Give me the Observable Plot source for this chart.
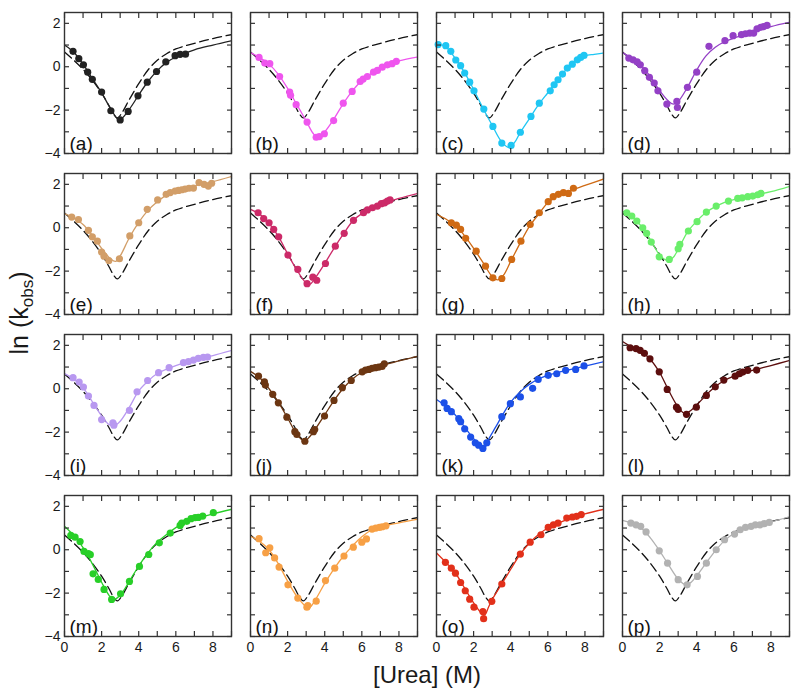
<!DOCTYPE html>
<html><head><meta charset="utf-8">
<script src="https://cdn.jsdelivr.net/npm/d3@7"></script>
<script src="https://cdn.jsdelivr.net/npm/@observablehq/plot@0.6"></script>
<style>body{margin:0;background:#fff;} #chart{width:800px;height:694px;}</style>
</head><body><div id="chart"></div>
<script>
const xTicks = [0,1,2,3,4,5,6,7,8,9];
const xTickLabels = [0,2,4,6,8];
const yTicks = [-4,-3,-2,-1,0,1,2];
const yTickLabels = [-4,-2,0,2];
const panelIds = ["a","b","c","d","e","f","g","h","i","j","k","l","m","n","o","p"];
const panelColors = ["#222222","#ef55ee","#1fc6f3","#9440c6","#d29e68","#cc2a68","#cf6a14","#6aee6a",
                     "#b898f0","#6c3612","#1c50e8","#5c0e0e","#28cf28","#f7a045","#e2301a","#b2b2b2"];
const xTitle = "[Urea] (M)";

// reference (dashed) chevron, same in every panel
const refCurve = [[0,0.68],[0.5,0.3],[1,-0.12],[1.5,-0.62],[2,-1.22],[2.4,-1.8],[2.6,-2.12],[2.85,-2.36],[3.1,-2.12],[3.5,-1.5],[4,-0.78],[4.5,-0.15],[5,0.3],[5.5,0.6],[6,0.82],[7,1.08],[8,1.3],[9,1.48]];

const a_pts = [[0.46,0.71],[0.77,0.37],[1.02,0.09],[1.25,-0.25],[1.5,-0.58],[2.0,-1.17],[2.5,-2.03],[3.0,-2.45],[3.43,-2.06],[3.96,-1.34],[4.46,-0.71],[4.96,-0.22],[5.46,0.22],[5.96,0.51],[6.23,0.57],[6.52,0.58]];
const a_fit = [[0,1.0],[0.5,0.67],[1,0.12],[1.5,-0.55],[2,-1.2],[2.5,-1.95],[2.95,-2.45],[3.5,-1.95],[4,-1.3],[4.5,-0.68],[5,-0.18],[5.5,0.2],[6,0.45],[7,0.78],[8,1.0],[9,1.2]];

const b_pts = [[0.46,0.43],[0.77,0.17],[1.04,0.14],[1.57,-0.45],[2.11,-1.17],[2.16,-1.32],[2.46,-1.75],[3.05,-2.55],[3.54,-3.25],[3.71,-3.22],[3.98,-3.09],[4.48,-2.48],[5.0,-1.68],[5.48,-1.14],[5.91,-0.68],[6.07,-0.57],[6.3,-0.45],[6.63,-0.25],[6.84,-0.17],[7.1,-0.02],[7.38,0.09],[7.63,0.14],[7.86,0.25]];
const b_fit = [[0,0.65],[0.5,0.42],[1,0.12],[1.5,-0.35],[2,-1.0],[2.5,-1.75],[3,-2.5],[3.4,-3.1],[3.65,-3.25],[4,-3.0],[4.5,-2.4],[5,-1.7],[5.5,-1.1],[6,-0.65],[7,-0.05],[8,0.27],[9,0.45]];

const c_pts = [[0.09,1.02],[0.5,0.97],[0.77,0.71],[1.04,0.31],[1.3,0.05],[1.52,-0.29],[1.79,-0.71],[2.02,-1.11],[2.55,-1.95],[3.04,-2.75],[3.52,-3.52],[4.02,-3.63],[4.52,-3.02],[5.09,-2.29],[5.54,-1.68],[6.13,-1.11],[6.34,-0.83],[6.55,-0.6],[6.79,-0.34],[7.05,-0.06],[7.32,0.12],[7.59,0.32],[7.77,0.43],[7.95,0.52]];
const c_fit = [[0,1.05],[0.5,0.92],[1,0.4],[1.5,-0.25],[2,-1.05],[2.5,-1.9],[3,-2.7],[3.5,-3.45],[3.9,-3.72],[4.2,-3.5],[4.5,-3.05],[5,-2.4],[5.5,-1.75],[6,-1.2],[6.5,-0.65],[7,-0.12],[7.5,0.25],[8,0.5],[8.5,0.57],[9,0.63]];

const d_pts = [[0.34,0.4],[0.57,0.32],[0.79,0.22],[0.96,0.09],[1.2,-0.18],[1.45,-0.49],[1.71,-0.75],[1.91,-1.11],[2.39,-1.72],[2.93,-1.6],[2.96,-1.88],[3.5,-0.95],[4.0,-0.25],[4.66,0.94],[5.52,1.2],[5.96,1.43],[6.41,1.48],[6.63,1.52],[6.86,1.55],[7.07,1.55],[7.25,1.75],[7.45,1.82],[7.6,1.85],[7.79,1.91]];
const d_fit = [[0,0.65],[0.5,0.38],[1,0.05],[1.5,-0.45],[2,-1.1],[2.5,-1.6],[2.75,-1.72],[3,-1.6],[3.5,-0.95],[4,-0.15],[4.5,0.5],[5,0.9],[5.5,1.15],[6,1.32],[7,1.58],[8,1.85],[9,2.05]];

const e_pts = [[0.39,0.49],[0.75,0.38],[1.29,-0.12],[1.5,-0.42],[1.77,-0.62],[2.0,-1.12],[2.13,-1.31],[2.39,-1.51],[2.96,-1.43],[3.52,-0.38],[4.0,0.23],[4.46,0.85],[5.02,1.28],[5.48,1.54],[5.7,1.62],[5.96,1.69],[6.14,1.72],[6.32,1.75],[6.5,1.78],[6.71,1.82],[6.95,1.83],[7.25,2.08],[7.52,2.0],[7.75,1.92],[7.93,2.05]];
const e_fit = [[0,0.65],[0.5,0.45],[1,0.15],[1.5,-0.35],[2,-0.95],[2.5,-1.45],[2.75,-1.55],[3,-1.3],[3.5,-0.45],[4,0.25],[4.5,0.8],[5,1.2],[5.5,1.5],[6,1.68],[7,1.92],[8,2.12],[9,2.36]];

const f_pts = [[0.41,0.69],[0.71,0.42],[1.0,0.23],[1.25,-0.08],[1.52,-0.42],[2.02,-1.26],[2.55,-1.92],[3.05,-2.58],[3.36,-2.28],[3.57,-2.42],[4.04,-1.65],[4.57,-0.85],[5.05,-0.26],[5.55,0.34],[6.09,0.69],[6.3,0.82],[6.57,0.92],[6.84,1.0],[7.05,1.11],[7.23,1.15],[7.38,1.23],[7.52,1.28]];
const f_fit = [[0,0.85],[0.5,0.62],[1,0.2],[1.5,-0.4],[2,-1.2],[2.5,-1.95],[3,-2.55],[3.2,-2.6],[3.5,-2.3],[4,-1.65],[4.5,-0.95],[5,-0.3],[5.5,0.3],[6,0.65],[7,1.08],[8,1.35],[9,1.58]];

const g_pts = [[0.8,0.23],[1.07,0.12],[1.3,-0.08],[1.57,-0.49],[2.14,-1.08],[2.64,-1.77],[3.04,-2.31],[3.52,-2.34],[4.05,-1.46],[4.55,-0.62],[5.05,0.15],[5.54,0.69],[6.02,1.2],[6.29,1.43],[6.57,1.54],[6.84,1.62],[7.11,1.58],[7.38,1.82]];
const g_fit = [[0,0.62],[0.5,0.4],[1,0.12],[1.5,-0.35],[2,-0.95],[2.5,-1.6],[3,-2.25],[3.3,-2.4],[3.6,-2.2],[4,-1.55],[4.5,-0.72],[5,0.05],[5.5,0.62],[6,1.15],[6.5,1.45],[7,1.65],[8,1.95],[9,2.24]];

const h_pts = [[0.23,0.69],[0.5,0.54],[0.77,0.31],[1.09,0.0],[1.3,-0.26],[1.55,-0.66],[1.98,-1.34],[2.52,-1.46],[3.0,-0.97],[3.09,-0.77],[3.55,-0.15],[4.02,0.28],[4.52,0.72],[5.05,1.0],[5.71,1.23],[6.21,1.35],[6.45,1.38],[6.75,1.43],[7.02,1.46],[7.29,1.52],[7.46,1.58]];
const h_fit = [[0,0.75],[0.5,0.52],[1,0.08],[1.5,-0.55],[2,-1.25],[2.4,-1.5],[2.7,-1.4],[3,-1.0],[3.5,-0.2],[4,0.3],[4.5,0.7],[5,0.97],[5.5,1.17],[6,1.3],[7,1.48],[8,1.66],[9,1.9]];

const i_pts = [[0.46,0.51],[0.79,0.31],[1.02,0.08],[1.29,-0.34],[1.59,-0.77],[2.0,-1.42],[2.61,-1.57],[2.66,-1.68],[3.5,-1.0],[3.91,-0.14],[4.48,0.38],[5.07,0.74],[5.64,0.97],[6.41,1.2],[6.68,1.25],[6.95,1.32],[7.21,1.4],[7.48,1.45],[7.71,1.46]];
const i_fit = [[0,0.7],[0.5,0.45],[1,0.05],[1.5,-0.6],[2,-1.25],[2.4,-1.65],[2.65,-1.72],[3,-1.5],[3.5,-0.85],[4,-0.1],[4.5,0.35],[5,0.7],[6,1.07],[7,1.32],[8,1.53],[9,1.76]];

const j_pts = [[0.43,0.58],[0.75,0.32],[0.8,0.17],[1.2,-0.26],[1.5,-0.65],[1.96,-1.31],[2.39,-1.98],[2.5,-2.11],[2.93,-2.42],[3.39,-1.98],[3.46,-1.88],[3.99,-1.26],[4.5,-0.54],[4.95,0.05],[5.43,0.38],[6.02,0.78],[6.2,0.86],[6.38,0.89],[6.55,0.94],[6.73,0.97],[6.91,1.0],[7.09,1.03],[7.21,1.15]];
const j_fit = [[0,0.8],[0.5,0.5],[1,0.0],[1.5,-0.62],[2,-1.35],[2.5,-2.1],[2.9,-2.42],[3.2,-2.2],[3.5,-1.85],[4,-1.2],[4.5,-0.55],[5,0.02],[5.5,0.45],[6,0.75],[7,1.05],[8,1.28],[9,1.5]];

const k_pts = [[0.41,-0.65],[0.57,-0.91],[0.8,-1.06],[1.2,-1.38],[1.3,-1.52],[1.52,-1.85],[1.84,-2.23],[2.09,-2.49],[2.27,-2.6],[2.5,-2.75],[2.71,-2.49],[3.52,-1.29],[3.98,-0.69],[4.52,-0.38],[5.18,0.02],[5.48,0.43],[6.02,0.62],[6.48,0.69],[6.96,0.85],[7.5,0.89],[7.95,1.05]];
const k_fit = [[0,-0.5],[0.5,-0.8],[1,-1.2],[1.5,-1.75],[2,-2.3],[2.4,-2.65],[2.6,-2.72],[2.8,-2.35],[3.2,-1.75],[3.6,-1.15],[4,-0.62],[4.5,-0.15],[5,0.2],[5.5,0.45],[6,0.62],[7,0.85],[8,1.04],[9,1.24]];

const l_pts = [[0.41,1.89],[0.73,1.85],[0.95,1.77],[1.18,1.63],[1.48,1.38],[1.98,0.78],[2.41,-0.03],[2.91,-0.85],[3.0,-0.95],[3.45,-1.18],[3.98,-0.85],[4.52,-0.31],[5.0,0.09],[5.46,0.4],[6.07,0.58],[6.3,0.69],[6.48,0.77],[6.75,0.85],[7.23,0.86]];
const l_fit = [[0,2.18],[0.5,1.92],[1,1.72],[1.5,1.35],[2,0.75],[2.5,-0.1],[3,-0.85],[3.35,-1.15],[3.6,-1.05],[4,-0.75],[4.5,-0.3],[5,0.1],[5.5,0.38],[6,0.58],[7,0.85],[8,1.07],[9,1.3]];

const m_pts = [[0.34,0.66],[0.57,0.58],[0.84,0.38],[1.05,-0.08],[1.29,-0.18],[1.39,-0.23],[1.54,-1.11],[1.82,-1.37],[2.13,-1.83],[2.54,-2.29],[3.02,-2.03],[3.5,-1.46],[4.04,-0.77],[4.54,-0.22],[5.11,0.32],[5.7,0.77],[6.23,1.12],[6.32,1.23],[6.59,1.31],[6.82,1.43],[7.04,1.48],[7.21,1.49],[7.45,1.55],[8.02,1.71]];
const m_fit = [[0,1.08],[0.5,0.65],[1,0.1],[1.5,-0.65],[2,-1.5],[2.4,-2.1],[2.65,-2.3],[3,-2.1],[3.5,-1.45],[4,-0.75],[4.5,-0.15],[5,0.35],[5.5,0.7],[6,1.02],[6.5,1.25],[7,1.42],[8,1.65],[9,1.86]];

const n_pts = [[0.46,0.51],[0.82,-0.14],[1.04,0.09],[1.3,-0.38],[1.54,-0.8],[2.02,-1.62],[2.55,-2.23],[3.04,-2.65],[3.09,-2.57],[3.54,-2.37],[4.04,-1.42],[4.54,-0.85],[5.04,-0.29],[5.54,0.12],[6.0,0.35],[6.25,0.5],[6.55,0.95],[6.75,1.0],[6.95,1.03],[7.1,1.06],[7.3,1.1]];
const n_fit = [[0,0.62],[0.5,0.38],[1,0.0],[1.5,-0.65],[2,-1.45],[2.5,-2.15],[3,-2.62],[3.2,-2.65],[3.5,-2.3],[4,-1.55],[4.5,-0.88],[5,-0.3],[5.5,0.18],[6,0.6],[6.5,0.9],[7,1.05],[8,1.24],[9,1.4]];

const o_pts = [[0.48,-0.58],[0.8,-0.85],[1.02,-1.08],[1.3,-1.51],[1.55,-1.89],[1.79,-2.28],[2.02,-2.65],[2.5,-2.85],[2.54,-3.18],[2.98,-2.38],[3.52,-1.58],[4.52,-0.2],[5.05,0.35],[5.63,0.69],[6.02,1.03],[6.3,1.15],[6.55,1.23],[7.02,1.46],[7.32,1.51],[7.55,1.54],[7.8,1.62]];
const o_fit = [[0,-0.15],[0.5,-0.58],[1,-1.05],[1.5,-1.75],[2,-2.45],[2.4,-2.9],[2.6,-3.0],[2.8,-2.65],[3,-2.3],[3.5,-1.6],[4,-0.9],[4.5,-0.22],[5,0.3],[5.5,0.7],[6,1.0],[7,1.38],[8,1.65],[9,1.86]];

const p_pts = [[0.45,1.23],[0.73,1.15],[0.98,1.08],[1.27,0.82],[1.98,-0.05],[2.43,-0.62],[3.0,-1.38],[3.48,-1.62],[4.04,-1.23],[4.52,-0.62],[5.05,0.0],[5.5,0.46],[6.04,0.72],[6.34,0.92],[6.63,1.03],[6.93,1.08],[7.16,1.15],[7.41,1.15],[7.64,1.2],[7.91,1.26]];
const p_fit = [[0,1.35],[0.5,1.22],[1,1.0],[1.5,0.55],[2,-0.05],[2.5,-0.72],[3,-1.35],[3.4,-1.62],[3.7,-1.5],[4,-1.2],[4.5,-0.62],[5,-0.05],[5.5,0.42],[6,0.75],[6.5,0.95],[7,1.08],[8,1.28],[9,1.52]];

const ptsList = [a_pts,b_pts,c_pts,d_pts,e_pts,f_pts,g_pts,h_pts,i_pts,j_pts,k_pts,l_pts,m_pts,n_pts,o_pts,p_pts];
const fitList = [a_fit,b_fit,c_fit,d_fit,e_fit,f_fit,g_fit,h_fit,i_fit,j_fit,k_fit,l_fit,m_fit,n_fit,o_fit,p_fit];

const dots = [], fits = [], refs = [], labels = [];
panelIds.forEach((id, i) => {
  const col = i % 4, row = Math.floor(i / 4), color = panelColors[i];
  ptsList[i].forEach(([x, y]) => dots.push({id, col, row, x, y, color}));
  fitList[i].forEach(([x, y]) => fits.push({id, col, row, x, y, color}));
  refCurve.forEach(([x, y]) => refs.push({id, col, row, x, y}));
  labels.push({id, col, row, text: `(${id})`});
});

const FONT = "'Liberation Sans', Arial, Helvetica, sans-serif";
const frameColor = "#333";

const chart = Plot.plot({
  width: 800, height: 694,
  marginLeft: 62, marginRight: 9.5, marginTop: 11.7, marginBottom: 58,
  style: {fontFamily: FONT, fontSize: "14px", color: "#1a1a1a", background: "#fff"},
  fx: {paddingInner: 0.1, paddingOuter: 0, axis: null},
  fy: {paddingInner: 0.1248, paddingOuter: 0, axis: null},
  x: {domain: [0, 9]},
  y: {domain: [-4, 2.5]},
  color: {type: "identity"},
  marks: [
    Plot.line(refs, {x: "x", y: "y", z: "id", fx: "col", fy: "row", stroke: "#111", strokeWidth: 1.3, strokeDasharray: "9,4.5", curve: "catmull-rom", clip: true}),
    Plot.line(fits, {x: "x", y: "y", z: "id", fx: "col", fy: "row", stroke: "color", strokeWidth: 1.3, curve: "catmull-rom", clip: true}),
    Plot.dot(dots, {x: "x", y: "y", fx: "col", fy: "row", fill: "color", r: 3.6}),
    Plot.text(labels, {fx: "col", fy: "row", text: "text", frameAnchor: "bottom-left", textAnchor: "start", lineAnchor: "bottom", dx: 5, dy: -4, fontSize: 19, fill: "#111"}),
    Plot.axisX(xTicks, {anchor: "bottom", tickSize: -5, tickFormat: () => "", label: null, facetAnchor: null, stroke: frameColor, strokeWidth: 1.2}),
    Plot.axisX(xTicks, {anchor: "top", tickSize: -5, tickFormat: () => "", label: null, facetAnchor: null, stroke: frameColor, strokeWidth: 1.2}),
    Plot.axisY(yTicks, {anchor: "left", tickSize: -5, tickFormat: () => "", label: null, facetAnchor: null, stroke: frameColor, strokeWidth: 1.2}),
    Plot.axisY(yTicks, {anchor: "right", tickSize: -5, tickFormat: () => "", label: null, facetAnchor: null, stroke: frameColor, strokeWidth: 1.2}),
    Plot.axisX(xTickLabels, {anchor: "bottom", tickSize: 0, tickPadding: 6, label: null, fontSize: 14, fill: "#1a1a1a"}),
    Plot.axisY(yTickLabels, {anchor: "left", tickSize: 0, tickPadding: 4, label: null, fontSize: 14, fill: "#1a1a1a"}),
    Plot.frame({stroke: frameColor, strokeWidth: 1.4})
  ]
});

const svg = d3.select(chart);
const yt = svg.append("text")
  .attr("transform", "translate(28,313) rotate(-90)")
  .attr("text-anchor", "middle")
  .attr("font-family", FONT).attr("font-size", 25).attr("fill", "#1a1a1a");
yt.append("tspan").text("ln (k");
yt.append("tspan").attr("font-size", 17).attr("dy", 5).text("obs");
yt.append("tspan").attr("dy", -5).text(")");
svg.append("text")
  .attr("x", 427).attr("y", 683)
  .attr("text-anchor", "middle")
  .attr("font-family", FONT).attr("font-size", 24).attr("fill", "#1a1a1a")
  .text(xTitle);

document.getElementById("chart").appendChild(chart);
</script>
</body></html>
